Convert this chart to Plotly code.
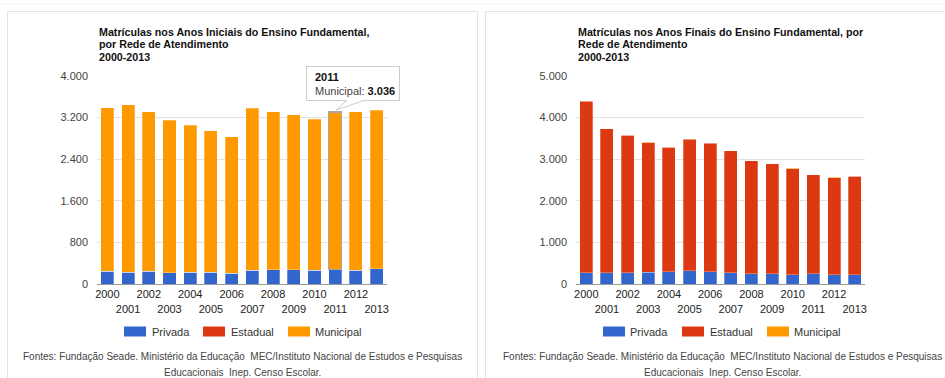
import plotly.graph_objects as go

W, H = 945, 378

years = list(range(2000, 2014))

# Anos Iniciais (milhares de matrículas)
ini_privada = [250, 224, 243, 218, 224, 230, 205, 263, 276, 276, 263, 276, 263, 289]
ini_estadual = [0, 0, 0, 0, 0, 0, 0, 0, 0, 0, 0, 0, 0, 0]
ini_municipal = [3143, 3227, 3073, 2930, 2828, 2720, 2629, 3117, 3040, 2982, 2905, 3036, 3053, 3052]

# Anos Finais (milhares de matrículas)
fin_privada = [265, 265, 265, 281, 297, 313, 297, 265, 241, 241, 224, 241, 224, 224]
fin_estadual = [4134, 3467, 3307, 3117, 2986, 3161, 3083, 2936, 2719, 2647, 2551, 2382, 2334, 2367]
fin_municipal = [3, 3, 3, 8, 10, 12, 10, 4, 4, 4, 4, 4, 4, 4]

series_names = ["Privada", "Estadual", "Municipal"]
colors = ["#3366cc", "#dc3912", "#ff9900"]

tick_text = [str(y) if y % 2 == 0 else "<br>" + str(y) for y in years]

FONT = "Arial, 'Liberation Sans', sans-serif"


def px(x):
    return x / W


def py(y):
    return 1 - y / H


highlight_year = 2011
hi = years.index(highlight_year)

fig = go.Figure()

panels = [
    ("x", "y", [ini_privada, ini_estadual, ini_municipal]),
    ("x2", "y2", [fin_privada, fin_estadual, fin_municipal]),
]
for xa, ya, vals in panels:
    for name, col, v in zip(series_names, colors, vals):
        lw = [0.5] * len(years)
        lc = ["rgba(255,255,255,0.55)"] * len(years)
        if xa == "x" and name == "Municipal":
            lw[hi] = 1.5
            lc[hi] = "#a8a8a8"
        fig.add_trace(go.Bar(
            x=years, y=v, name=name, marker=dict(color=col, line=dict(width=lw, color=lc)),
            xaxis=xa, yaxis=ya, showlegend=False,
        ))

axis_x = dict(
    tickmode="array", tickvals=years, ticktext=tick_text, range=[1999.5, 2013.5],
    showgrid=False, zeroline=False, showline=True, linecolor="#9a9a9a", linewidth=1,
    ticks="", tickangle=0, automargin=False,
    tickfont=dict(family=FONT, size=11, color="#222222"), fixedrange=True,
)
axis_y = dict(
    showgrid=True, gridcolor="#e2e2e2", gridwidth=1, zeroline=False, showline=False,
    ticks="", tickformat=",d", tickfont=dict(family=FONT, size=11, color="#444444"),
    ticklabelstandoff=8, automargin=False,
)

fig.update_layout(
    width=W, height=H, margin=dict(l=0, r=0, t=0, b=0, autoexpand=False),
    paper_bgcolor="white", plot_bgcolor="white",
    barmode="stack", bargap=0.37, separators=",.",
    xaxis=dict(axis_x, domain=[px(97), px(387)], anchor="y"),
    yaxis=dict(axis_y, domain=[py(284), py(76)], range=[0, 4000], dtick=800, anchor="x"),
    xaxis2=dict(axis_x, domain=[px(576), px(865)], anchor="y2"),
    yaxis2=dict(axis_y, domain=[py(284), py(76)], range=[0, 5000], dtick=1000, anchor="x2"),
    font=dict(family=FONT),
)

shapes = []
annotations = []

# page frame: top rule and the two cards
shapes.append(dict(type="line", xref="paper", yref="paper", x0=0, x1=1, y0=py(4), y1=py(4),
                   line=dict(color="#efefef", width=1), layer="below"))
shapes.append(dict(type="rect", xref="paper", yref="paper", x0=px(7.5), x1=px(477.5),
                   y0=py(390), y1=py(11.5), line=dict(color="#e3e3e3", width=1), layer="below"))
shapes.append(dict(type="rect", xref="paper", yref="paper", x0=px(485.5), x1=px(960),
                   y0=py(390), y1=py(11.5), line=dict(color="#e3e3e3", width=1), layer="below"))

titles = [
    (97, ["Matrículas nos Anos Iniciais do Ensino Fundamental,", "por Rede de Atendimento", "2000-2013"]),
    (576, ["Matrículas nos Anos Finais do Ensino Fundamental, por", "Rede de Atendimento", "2000-2013"]),
]
for x0, lines in titles:
    for yy, t in zip([31.5, 44.5, 57.5], lines):
        annotations.append(dict(
            xref="paper", yref="paper", x=px(x0), y=py(yy), xanchor="left", yanchor="middle",
            text="<b>" + t + "</b>", showarrow=False, font=dict(family=FONT, size=10.7, color="#111111"),
        ))

# legends
legend_pos = [
    [(124, 150), (203, 229), (288, 313)],
    [(603, 628), (682, 708), (767, 792)],
]
for items in legend_pos:
    for (bx, tx), name, col in zip(items, series_names, colors):
        shapes.append(dict(type="rect", xref="paper", yref="paper", x0=px(bx), x1=px(bx + 22),
                           y0=py(336.5), y1=py(326.5), fillcolor=col, line=dict(width=0)))
        annotations.append(dict(
            xref="paper", yref="paper", x=px(tx), y=py(331.5), xanchor="left", yanchor="middle",
            text=name, showarrow=False, font=dict(family=FONT, size=11, color="#333333"),
        ))

# sources
for cx in [243, 722]:
    annotations.append(dict(
        xref="paper", yref="paper", x=px(cx), y=py(356), xanchor="center", yanchor="middle",
        text="Fontes: Fundação Seade. Ministério da Educação  MEC/Instituto Nacional de Estudos e Pesquisas",
        showarrow=False, font=dict(family=FONT, size=10, color="#444444"),
    ))
    annotations.append(dict(
        xref="paper", yref="paper", x=px(cx), y=py(372), xanchor="center", yanchor="middle",
        text="Educacionais  Inep. Censo Escolar.",
        showarrow=False, font=dict(family=FONT, size=10, color="#444444"),
    ))

# tooltip for the highlighted year
bx0, bx1, by0, by1 = 306.5, 399.5, 66.5, 100.5
shapes.append(dict(type="rect", xref="paper", yref="paper", x0=px(bx0), x1=px(bx1),
                   y0=py(by1), y1=py(by0), fillcolor="white", line=dict(color="#cccccc", width=1)))
tip = f"M {px(347)},{py(by1 - 0.5)} L {px(336)},{py(110)} L {px(364)},{py(by1 - 0.5)} Z"
shapes.append(dict(type="path", xref="paper", yref="paper", path=tip, fillcolor="white",
                   line=dict(width=0)))
shapes.append(dict(type="line", xref="paper", yref="paper", x0=px(347), y0=py(by1), x1=px(336), y1=py(110),
                   line=dict(color="#cccccc", width=1)))
shapes.append(dict(type="line", xref="paper", yref="paper", x0=px(364), y0=py(by1), x1=px(336), y1=py(110),
                   line=dict(color="#cccccc", width=1)))

val = f"{ini_municipal[hi]:,}".replace(",", ".")
annotations.append(dict(
    xref="paper", yref="paper", x=px(313), y=py(77), xanchor="left", yanchor="middle",
    text=f"<b>{highlight_year}</b>", showarrow=False, font=dict(family=FONT, size=11, color="#111111"),
))
annotations.append(dict(
    xref="paper", yref="paper", x=px(313), y=py(90.5), xanchor="left", yanchor="middle",
    text=f"<span style='color:#444444'>Municipal:</span> <b>{val}</b>", showarrow=False,
    font=dict(family=FONT, size=11, color="#111111"),
))

fig.update_layout(shapes=shapes, annotations=annotations)

fig.write_html("out.html")
